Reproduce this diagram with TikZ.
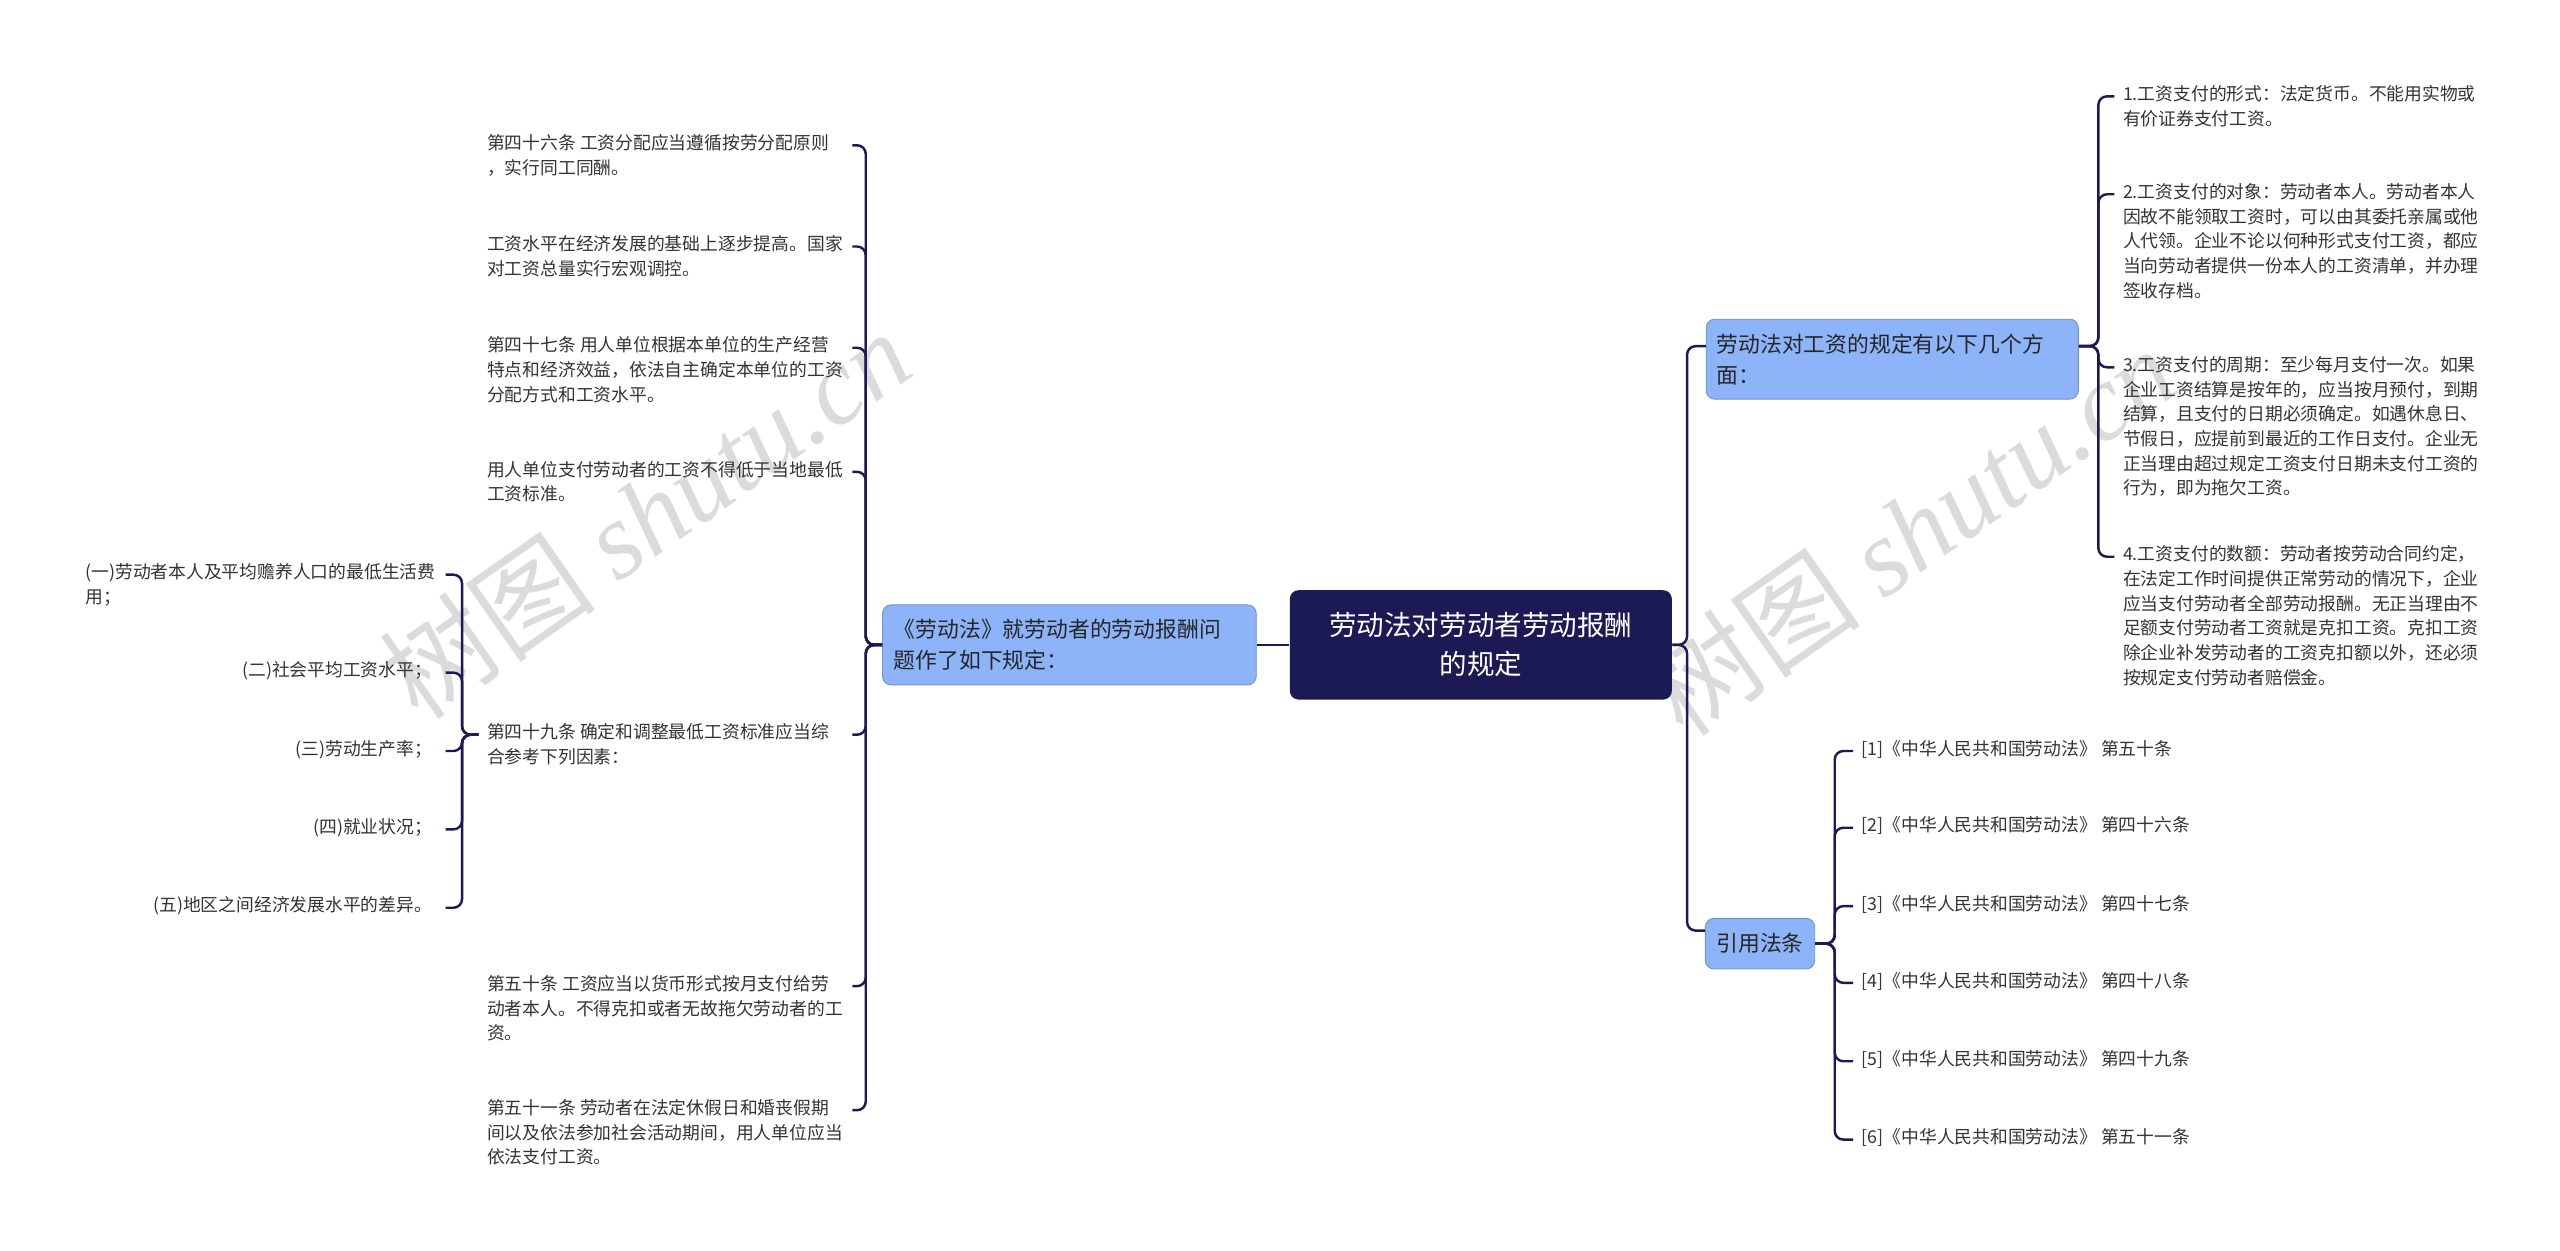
\documentclass[tikz,border=0pt]{standalone}
\usepackage{fontspec}
\setmainfont{Noto Sans CJK SC}
\newfontfamily\markfont{Liberation Serif}
\usetikzlibrary{calc}
\definecolor{navy}{HTML}{1B1A55}
\definecolor{branch}{HTML}{8DB4F8}
\newcommand{\leaffont}{\fontsize{6.2}{8.6}\selectfont}

\begin{document}
\begin{tikzpicture}[x=0.02cm,y=-0.02cm,
  link/.style={draw=navy,line width=0.85pt,rounded corners=3pt},
  leaf/.style={inner sep=0,align=left,font=\leaffont,text=black!80},
  mid/.style={fill=branch,draw=branch!80!black,line width=0.3pt,rounded corners=3pt,
    font=\fontsize{7.6}{10.8}\selectfont,align=left,text=black!85,inner sep=0},
  watermark/.style={text=black!14,font=\fontsize{38}{38}\selectfont,rotate=35}]
\useasboundingbox (0,0) rectangle (1568,766);

% watermarks
\node[watermark] (w1) at (395,315) {树图 {\markfont\itshape shutu.cn}};
\node[watermark] (w2) at (1170,325) {树图 {\markfont\itshape shutu.cn}};

% root and branches
\node[fill=navy,rounded corners=3pt,minimum width=4.68cm,minimum height=1.34cm,
  text=white,align=center,font=\fontsize{9.6}{13.5}\selectfont] (root) at (907,395)
  {劳动法对劳动者劳动报酬\\的规定};
\node[mid,minimum width=4.58cm,minimum height=0.98cm,text width=4.3cm] (law) at (655,395)
  {《劳动法》就劳动者的劳动报酬问\\题作了如下规定：};
\node[mid,minimum width=4.56cm,minimum height=0.98cm,text width=4.3cm] (wage) at (1159,220)
  {劳动法对工资的规定有以下几个方\\面：};
\node[mid,minimum width=1.34cm,minimum height=0.62cm,align=center] (cite) at (1078,578) {引用法条};

% left leaves
\node[leaf,anchor=north west] (a1) at (298,82) {第四十六条 工资分配应当遵循按劳分配原则\\，实行同工同酬。};
\node[leaf,anchor=north west] (a2) at (298,144) {工资水平在经济发展的基础上逐步提高。国家\\对工资总量实行宏观调控。};
\node[leaf,anchor=north west] (a3) at (298,206) {第四十七条 用人单位根据本单位的生产经营\\特点和经济效益，依法自主确定本单位的工资\\分配方式和工资水平。};
\node[leaf,anchor=north west] (a4) at (298,282) {用人单位支付劳动者的工资不得低于当地最低\\工资标准。};
\node[leaf,anchor=north west] (a5) at (298,443) {第四十九条 确定和调整最低工资标准应当综\\合参考下列因素：};
\node[leaf,anchor=north west] (a6) at (298,597) {第五十条 工资应当以货币形式按月支付给劳\\动者本人。不得克扣或者无故拖欠劳动者的工\\资。};
\node[leaf,anchor=north west] (a7) at (298,673) {第五十一条 劳动者在法定休假日和婚丧假期\\间以及依法参加社会活动期间，用人单位应当\\依法支付工资。};

\node[leaf,anchor=north west] (b1) at (52,345) {(一)劳动者本人及平均赡养人口的最低生活费\\用；};
\node[leaf,anchor=north east] (b2) at (265,405) {(二)社会平均工资水平；};
\node[leaf,anchor=north east] (b3) at (265,453) {(三)劳动生产率；};
\node[leaf,anchor=north east] (b4) at (265,501) {(四)就业状况；};
\node[leaf,anchor=north east] (b5) at (265,549) {(五)地区之间经济发展水平的差异。};

% right leaves
\node[leaf,anchor=north west] (c1) at (1300,52) {1.工资支付的形式：法定货币。不能用实物或\\有价证券支付工资。};
\node[leaf,anchor=north west] (c2) at (1300,112) {2.工资支付的对象：劳动者本人。劳动者本人\\因故不能领取工资时，可以由其委托亲属或他\\人代领。企业不论以何种形式支付工资，都应\\当向劳动者提供一份本人的工资清单，并办理\\签收存档。};
\node[leaf,anchor=north west] (c3) at (1300,218) {3.工资支付的周期：至少每月支付一次。如果\\企业工资结算是按年的，应当按月预付，到期\\结算，且支付的日期必须确定。如遇休息日、\\节假日，应提前到最近的工作日支付。企业无\\正当理由超过规定工资支付日期未支付工资的\\行为，即为拖欠工资。};
\node[leaf,anchor=north west] (c4) at (1300,334) {4.工资支付的数额：劳动者按劳动合同约定，\\在法定工作时间提供正常劳动的情况下，企业\\应当支付劳动者全部劳动报酬。无正当理由不\\足额支付劳动者工资就是克扣工资。克扣工资\\除企业补发劳动者的工资克扣额以外，还必须\\按规定支付劳动者赔偿金。};

\node[leaf,anchor=north west] (d1) at (1140,453) {[1]《中华人民共和国劳动法》 第五十条};
\node[leaf,anchor=north west] (d2) at (1140,500) {[2]《中华人民共和国劳动法》 第四十六条};
\node[leaf,anchor=north west] (d3) at (1140,548) {[3]《中华人民共和国劳动法》 第四十七条};
\node[leaf,anchor=north west] (d4) at (1140,595) {[4]《中华人民共和国劳动法》 第四十八条};
\node[leaf,anchor=north west] (d5) at (1140,643) {[5]《中华人民共和国劳动法》 第四十九条};
\node[leaf,anchor=north west] (d6) at (1140,691) {[6]《中华人民共和国劳动法》 第五十一条};

% connectors
\draw[link] (root.west) -- (law.east);
\foreach \n in {wage,cite}
  \draw[link] (root.east) -- ++(9,0) |- ($(\n.west)+(0,-8)$);
\foreach \n in {a1,a2,a3,a4,a5,a6,a7}
  \draw[link] (law.west) -- ++(-10,0) |- ($(\n.north west)+(224,7)$);
\foreach \n in {b2,b3,b4,b5}
  \draw[link] ($(a5.north west)+(-5,7)$) -- ++(-10,0) |- ($(\n.north east)+(8,7)$);
\draw[link] ($(a5.north west)+(-5,7)$) -- ++(-10,0) |- ($(b1.north west)+(221,7)$);
\foreach \n in {c1,c2,c3,c4}
  \draw[link] ($(wage.east)+(0,-8)$) -- ++(12,0) |- ($(\n.north west)+(-5,7)$);
\foreach \n in {d1,d2,d3,d4,d5,d6}
  \draw[link] (cite.east) -- ++(12,0) |- ($(\n.north west)+(-5,7)$);
\end{tikzpicture}
\end{document}
